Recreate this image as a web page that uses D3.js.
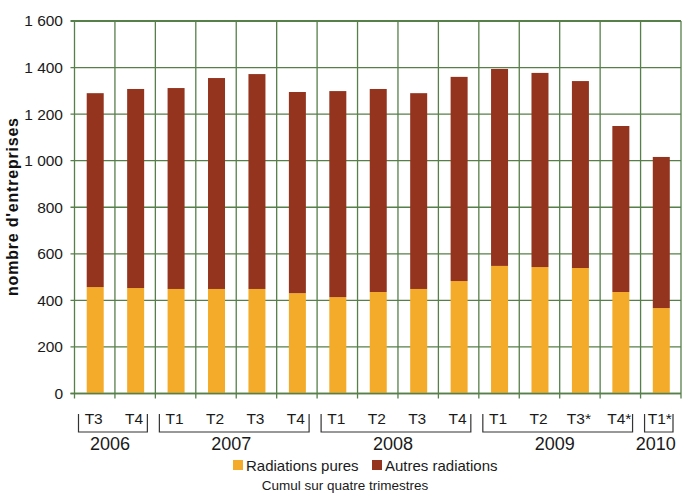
<!DOCTYPE html>
<html><head><meta charset="utf-8">
<script src="https://cdn.jsdelivr.net/npm/d3@7"></script>
<style>body{margin:0;background:#fff}svg{display:block;font-family:"Liberation Sans",Arial,sans-serif}</style>
</head><body><svg id="c" width="682" height="494"></svg>
<script>
const quarters = ["T3","T4","T1","T2","T3","T4","T1","T2","T3","T4","T1","T2","T3*","T4*","T1*"];
const years = ["2006","2006","2007","2007","2007","2007","2008","2008","2008","2008","2009","2009","2009","2009","2010"];
const pures = [457,453,449,449,449,431,414,436,449,483,548,543,539,436,367];
const totals = [1290,1308,1312,1355,1372,1295,1299,1308,1290,1360,1394,1377,1342,1149,1016];
const autres = totals.map((t,i)=>t-pures[i]);
const yTicks = [0,200,400,600,800,1000,1200,1400,1600];
const seriesNames = ["Radiations pures","Autres radiations"];
const colors = ["#F5AB2A","#94341F"];

const svg = d3.select("#c");
const m = {l:74.5, r:681, t:21, b:393.5};
const x = d3.scaleBand().domain(d3.range(quarters.length)).range([m.l,m.r]).paddingInner(0).paddingOuter(0);
const y = d3.scaleLinear().domain([0,1600]).range([m.b,m.t]);
const grid = "#567f4a";
const fmt = v => d3.format(",")(v).replace(",", " ");

// horizontal gridlines
svg.append("g").selectAll("line").data(yTicks).join("line")
  .attr("x1",m.l-4).attr("x2",m.r).attr("y1",d=>y(d)).attr("y2",d=>y(d))
  .attr("stroke",grid).attr("stroke-width",d=>d===1600?2:1.3);
// vertical gridlines
const bounds = d3.range(quarters.length+1).map(i=> i<quarters.length ? x(i) : m.r);
svg.append("g").selectAll("line").data(bounds).join("line")
  .attr("x1",d=>d).attr("x2",d=>d).attr("y1",m.t).attr("y2",m.b+5)
  .attr("stroke",grid).attr("stroke-width",1.3);

// y labels
svg.append("g").selectAll("text").data(yTicks).join("text")
  .attr("x",63).attr("y",d=>y(d)).attr("dy","0.35em").attr("text-anchor","end")
  .attr("font-size",15.5).attr("fill","#1a1a1a").text(fmt);

// bars
const stack = d3.stack().keys([0,1]).value((d,k)=> k===0? d.p : d.a);
const data = pures.map((p,i)=>({i,p,a:autres[i]}));
const layers = stack(data);
const bw = 17;
svg.append("g").selectAll("g").data(layers).join("g").attr("fill",(d,k)=>colors[k])
  .selectAll("rect").data(d=>d).join("rect")
  .attr("x",d=>x(d.data.i)+x.bandwidth()/2-bw/2+0.5).attr("width",bw)
  .attr("y",d=>y(d[1])).attr("height",d=>y(d[0])-y(d[1]));

// redraw the zero line over bars
svg.append("line").attr("x1",m.l-4).attr("x2",m.r).attr("y1",y(0)).attr("y2",y(0)).attr("stroke",grid).attr("stroke-width",1.3);

// quarter labels
svg.append("g").selectAll("text").data(quarters).join("text")
  .attr("x",(d,i)=>x(i)+x.bandwidth()/2-1).attr("y",424).attr("text-anchor","middle")
  .attr("font-size",15.5).attr("fill","#1a1a1a").text(d=>d);

// year brackets
const groups = d3.groups(years.map((yv,i)=>({yv,i})), d=>d.yv);
const bg = svg.append("g");
groups.forEach(([yr,items])=>{
  const x0 = x(items[0].i)+4;
  const x1 = x(items[items.length-1].i)+x.bandwidth()-8;
  bg.append("path").attr("d",`M${x0},414V432H${x1}V414`).attr("fill","none").attr("stroke","#333").attr("stroke-width",1.2);
  bg.append("text").attr("x",(x0+x1)/2-3).attr("y",450).attr("text-anchor","middle")
    .attr("font-size",18).attr("fill","#1a1a1a").text(yr);
});

// legend
const lg = svg.append("g");
const lx = [233,372];
seriesNames.forEach((n,k)=>{
  lg.append("rect").attr("x",lx[k]).attr("y",460).attr("width",10).attr("height",10).attr("fill",colors[k]);
  lg.append("text").attr("x",lx[k]+13).attr("y",470.5).attr("font-size",15).attr("fill","#1a1a1a").text(n);
});
svg.append("text").attr("x",345).attr("y",490).attr("text-anchor","middle").attr("font-size",13.5).attr("fill","#1a1a1a").text("Cumul sur quatre trimestres");

// y title
svg.append("text").attr("transform","translate(18,207) rotate(-90)").attr("text-anchor","middle")
  .attr("font-size",16).attr("font-weight","bold").attr("fill","#111")
  .attr("textLength",178).attr("lengthAdjust","spacing").text("nombre d'entreprises");
</script></body></html>
